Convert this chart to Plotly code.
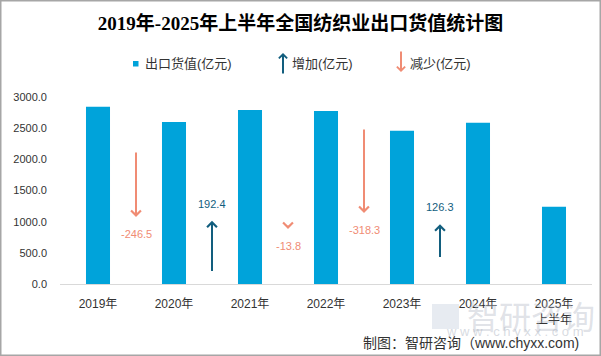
import plotly.graph_objects as go

# ---- data ----
years = ["2019年", "2020年", "2021年", "2022年", "2023年", "2024年", "2025年<br>上半年"]
export_value = [2845.0, 2598.5, 2790.9, 2777.1, 2458.8, 2585.1, 1241.0]
change = [-246.5, 192.4, -13.8, -318.3, 126.3]
arrow_base = [500, 47, 222, 587, 100]          # secondary-axis value of each arrow tail
y_ticks = [0, 500, 1000, 1500, 2000, 2500, 3000]

BAR = "#00A3DA"
UP = "#125E7E"
DOWN = "#F08C74"
TXT = "#333333"
FONT = "Liberation Sans, Noto Sans CJK SC, sans-serif"

W, H = 601, 356
L, R, T, B = 60, 9, 97, 72
PW, PH = W - L - R, H - T - B


def px(x):
    return (x - L) / PW


def py(y):
    return (H - B - y) / PH


fig = go.Figure()
fig.add_trace(go.Bar(
    x=list(range(len(years))), y=export_value, width=0.316,
    marker=dict(color=BAR, line=dict(width=0)), showlegend=False,
    hoverinfo="skip"))
# invisible trace to activate secondary axis
fig.add_trace(go.Scatter(x=[0], y=[0], yaxis="y2", mode="markers",
                         marker=dict(opacity=0), showlegend=False, hoverinfo="skip"))

ann = []
# watermark (drawn first so other texts sit over it)
ann.append(dict(x=px(531), y=py(315), xref="paper", yref="paper", text="智研咨询",
                xanchor="center", yanchor="middle",
                showarrow=False, font=dict(size=32, color="rgba(175,182,195,0.4)",
                                            family="Noto Sans CJK SC")))
ann.append(dict(x=px(515), y=py(331), xref="paper", yref="paper",
                text="w w w . c h y x x . c o m", xanchor="center", yanchor="middle",
                showarrow=False,
                font=dict(size=13, color="rgba(175,182,195,0.5)", family=FONT)))

for i, (d, b) in enumerate(zip(change, arrow_base)):
    xm = i + 0.5
    tip = b + d
    col = UP if d > 0 else DOWN
    ann.append(dict(x=xm, y=tip, xref="x", yref="y2", ax=xm, ay=b,
                    axref="x", ayref="y2", text="", showarrow=True, borderpad=0,
                    font=dict(size=1),
                    arrowhead=4, arrowsize=0.95, arrowwidth=2, arrowcolor=col))
    ann.append(dict(x=xm, y=tip, xref="x", yref="y2", text=f"{d:.1f}",
                    showarrow=False, yshift=17 if d > 0 else -17,
                    font=dict(size=11, color=col, family=FONT)))

# legend (manual)
ann.append(dict(x=px(143), y=py(64), xref="paper", yref="paper", text="出口货值(亿元)",
                xanchor="left", yanchor="middle", showarrow=False,
                font=dict(size=13, color=TXT, family=FONT)))
ann.append(dict(x=px(283), y=py(53), xref="paper", yref="paper", text="", ax=0, ay=21,
                showarrow=True, arrowhead=4, arrowsize=0.8, arrowwidth=2, arrowcolor=UP,
                borderpad=0, font=dict(size=1)))
ann.append(dict(x=px(290), y=py(64), xref="paper", yref="paper", text="增加(亿元)",
                xanchor="left", yanchor="middle", showarrow=False,
                font=dict(size=13, color=TXT, family=FONT)))
ann.append(dict(x=px(401), y=py(72), xref="paper", yref="paper", text="", ax=0, ay=-21,
                showarrow=True, arrowhead=4, arrowsize=0.8, arrowwidth=2, arrowcolor=DOWN,
                borderpad=0, font=dict(size=1)))
ann.append(dict(x=px(408), y=py(64), xref="paper", yref="paper", text="减少(亿元)",
                xanchor="left", yanchor="middle", showarrow=False,
                font=dict(size=13, color=TXT, family=FONT)))

# source
ann.append(dict(x=px(581), y=py(343), xref="paper", yref="paper",
                text="制图：智研咨询（www.chyxx.com)", xanchor="right", yanchor="middle",
                showarrow=False, font=dict(size=14, color=TXT, family=FONT)))

shapes = [
    dict(type="rect", xref="paper", yref="paper", x0=px(133), x1=px(138.5),
         y0=py(61), y1=py(66.5), fillcolor=BAR, line=dict(width=0)),
    # watermark logo-ish block
    dict(type="rect", xref="paper", yref="paper", x0=px(432), x1=px(459),
         y0=py(304), y1=py(329), fillcolor="rgba(185,198,215,0.35)", line=dict(width=0),
         layer="below"),
    # outer frame
    dict(type="rect", xref="paper", yref="paper", x0=px(0.75), x1=px(600.25),
         y0=py(0.75), y1=py(355.25), line=dict(color="#A6A6A6", width=1.5)),
]

fig.update_layout(
    width=W, height=H,
    margin=dict(l=L, r=R, t=T, b=B, pad=0),
    paper_bgcolor="white", plot_bgcolor="white",
    title=dict(text="<b>2019年-2025年上半年全国纺织业出口货值统计图</b>",
               x=0.5, xanchor="center", y=1 - 23 / H, yanchor="middle",
               font=dict(size=19, color="#000000",
                         family="Liberation Serif, Noto Sans CJK SC, serif")),
    xaxis=dict(tickmode="array", tickvals=list(range(len(years))), ticktext=years,
               range=[-0.5, len(years) - 0.5], showgrid=False, zeroline=False,
               showline=True, linecolor="#D9D9D9", linewidth=1, ticks="",
               ticklabelstandoff=9, tickfont=dict(size=12, color=TXT, family=FONT)),
    yaxis=dict(range=[0, 3000], tickmode="array", tickvals=y_ticks,
               ticktext=[f"{v:.1f}" for v in y_ticks], showgrid=False, zeroline=False,
               showline=False, ticks="", ticklabelstandoff=12,
               tickfont=dict(size=11, color=TXT, family=FONT)),
    yaxis2=dict(range=[0, 708], overlaying="y", visible=False),
    annotations=ann, shapes=shapes, showlegend=False,
)

fig.write_html("out.html", config={"displayModeBar": False},
               post_script="document.body.style.margin='0';document.body.style.overflow='hidden';")
